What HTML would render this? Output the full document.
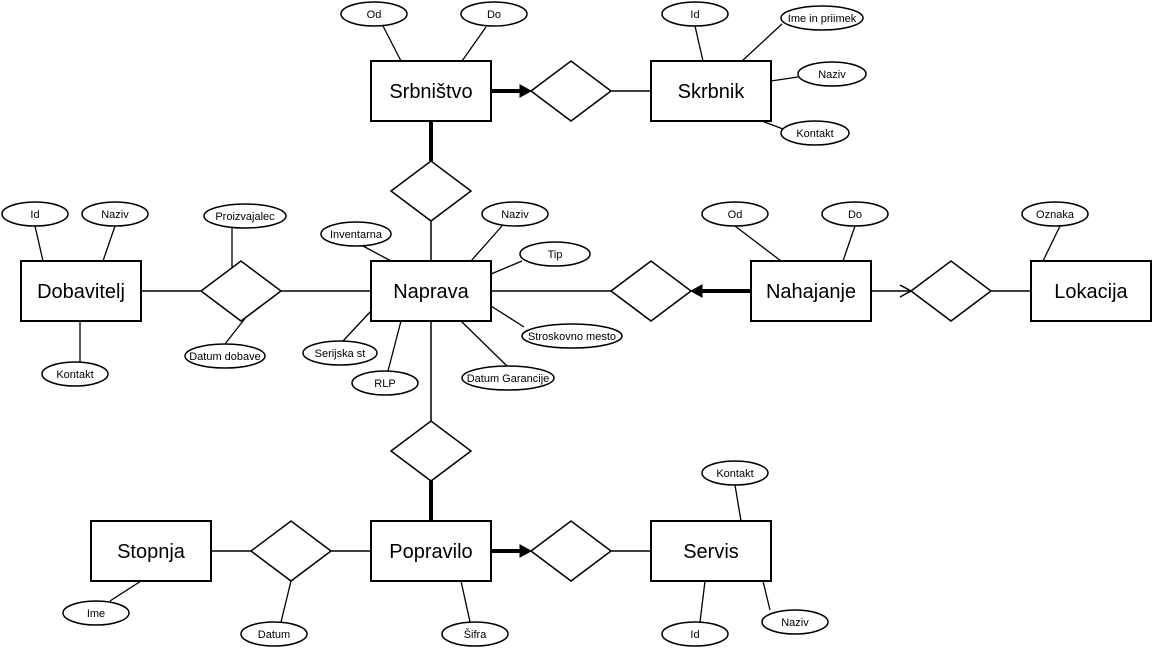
<!DOCTYPE html>
<html><head><meta charset="utf-8"><style>
html,body{margin:0;padding:0;background:#fff;}
svg{display:block;}
text{font-family:"Liberation Sans",sans-serif;fill:#000;}
.ent{font-size:20px;}
.att{font-size:11px;}
</style></head><body>
<svg width="1154" height="649" viewBox="0 0 1154 649">
<g stroke="#000" fill="none" stroke-width="1.3">
<line x1="383" y1="26" x2="401" y2="61"/><line x1="486" y1="27" x2="462" y2="61"/>
<line x1="695" y1="26" x2="703" y2="61"/><line x1="782" y1="24" x2="742" y2="61"/>
<line x1="798" y1="77" x2="771" y2="81"/><line x1="783" y1="129" x2="762" y2="121"/>
<line x1="35" y1="226" x2="43" y2="261"/><line x1="115" y1="226" x2="103" y2="261"/>
<line x1="80" y1="362" x2="80" y2="321"/>
<line x1="232" y1="228" x2="232" y2="270"/><line x1="225" y1="344" x2="250" y2="312"/>
<line x1="363" y1="246" x2="391" y2="261"/><line x1="502" y1="226" x2="471" y2="261"/>
<line x1="522" y1="261" x2="491" y2="274"/><line x1="524" y1="327" x2="491" y2="306"/>
<line x1="507" y1="366" x2="461" y2="321"/><line x1="388" y1="371" x2="401" y2="321"/>
<line x1="343" y1="341" x2="371" y2="311"/>
<line x1="735" y1="226" x2="781" y2="261"/><line x1="855" y1="226" x2="843" y2="261"/>
<line x1="1060" y1="226" x2="1043" y2="261"/>
<line x1="110" y1="601" x2="141" y2="581"/><line x1="281" y1="622" x2="291" y2="581"/>
<line x1="470" y1="622" x2="461" y2="581"/>
<line x1="735" y1="485" x2="741" y2="521"/><line x1="700" y1="622" x2="705" y2="581"/>
<line x1="770" y1="610" x2="763" y2="581"/>
</g>
<g stroke="#000" fill="none" stroke-width="1.5">
<line x1="611" y1="91" x2="651" y2="91"/>
<line x1="431" y1="221" x2="431" y2="261"/>
<line x1="141" y1="291" x2="201" y2="291"/><line x1="281" y1="291" x2="371" y2="291"/>
<line x1="491" y1="291" x2="611" y2="291"/>
<line x1="871" y1="291" x2="911" y2="291"/><polyline points="900,285 911,291 900,297"/>
<line x1="991" y1="291" x2="1031" y2="291"/>
<line x1="431" y1="321" x2="431" y2="421"/>
<line x1="211" y1="551" x2="251" y2="551"/><line x1="331" y1="551" x2="371" y2="551"/>
<line x1="611" y1="551" x2="651" y2="551"/>
</g>
<g stroke="#000" stroke-width="4" fill="#000">
<line x1="491" y1="91" x2="522" y2="91"/><polygon points="520,85 531,91 520,97" stroke-width="1"/>
<line x1="431" y1="121" x2="431" y2="161"/>
<line x1="751" y1="291" x2="700" y2="291"/><polygon points="702,285 691,291 702,297" stroke-width="1"/>
<line x1="431" y1="481" x2="431" y2="521"/>
<line x1="491" y1="551" x2="522" y2="551"/><polygon points="520,545 531,551 520,557" stroke-width="1"/>
</g>
<g stroke="#000" fill="#fff" stroke-width="1.5">
<polygon points="531,91 571,61 611,91 571,121"/>
<polygon points="391,191 431,161 471,191 431,221"/>
<polygon points="201,291 241,261 281,291 241,321"/>
<polygon points="611,291 651,261 691,291 651,321"/>
<polygon points="911,291 951,261 991,291 951,321"/>
<polygon points="391,451 431,421 471,451 431,481"/>
<polygon points="251,551 291,521 331,551 291,581"/>
<polygon points="531,551 571,521 611,551 571,581"/>
</g>
<g stroke="#000" fill="#fff" stroke-width="2">
<rect x="371" y="61" width="120" height="60"/><rect x="651" y="61" width="120" height="60"/>
<rect x="21" y="261" width="120" height="60"/><rect x="371" y="261" width="120" height="60"/>
<rect x="751" y="261" width="120" height="60"/><rect x="1031" y="261" width="120" height="60"/>
<rect x="91" y="521" width="120" height="60"/><rect x="371" y="521" width="120" height="60"/>
<rect x="651" y="521" width="120" height="60"/>
</g>
<g class="ent" text-anchor="middle">
<text x="431" y="98">Srbništvo</text><text x="711" y="98">Skrbnik</text>
<text x="81" y="298">Dobavitelj</text><text x="431" y="298">Naprava</text>
<text x="811" y="298">Nahajanje</text><text x="1091" y="298">Lokacija</text>
<text x="151" y="558">Stopnja</text><text x="431" y="558">Popravilo</text>
<text x="711" y="558">Servis</text>
</g>
<g stroke="#000" fill="#fff" stroke-width="1.5">
<ellipse cx="374" cy="14" rx="33" ry="12"/><ellipse cx="494" cy="14" rx="33" ry="12"/>
<ellipse cx="695" cy="14" rx="33" ry="12"/><ellipse cx="822" cy="18" rx="41" ry="12"/>
<ellipse cx="832" cy="74" rx="34" ry="12"/><ellipse cx="815" cy="133" rx="34" ry="12"/>
<ellipse cx="35" cy="214" rx="33" ry="12"/><ellipse cx="115" cy="214" rx="33" ry="12"/>
<ellipse cx="75" cy="374" rx="33" ry="12"/>
<ellipse cx="245" cy="216" rx="41" ry="12"/><ellipse cx="225" cy="356" rx="40" ry="12"/>
<ellipse cx="356" cy="234" rx="35" ry="12"/><ellipse cx="515" cy="214" rx="33" ry="12"/>
<ellipse cx="555" cy="254" rx="35" ry="12"/><ellipse cx="572" cy="336" rx="50" ry="12"/>
<ellipse cx="508" cy="378" rx="46" ry="12"/><ellipse cx="385" cy="383" rx="33" ry="12"/>
<ellipse cx="340" cy="353" rx="37" ry="12"/>
<ellipse cx="735" cy="214" rx="33" ry="12"/><ellipse cx="855" cy="214" rx="33" ry="12"/>
<ellipse cx="1055" cy="214" rx="33" ry="12"/>
<ellipse cx="96" cy="613" rx="33" ry="12"/><ellipse cx="274" cy="634" rx="33" ry="12"/>
<ellipse cx="475" cy="634" rx="33" ry="12"/>
<ellipse cx="735" cy="473" rx="33" ry="12"/><ellipse cx="695" cy="634" rx="33" ry="12"/>
<ellipse cx="795" cy="622" rx="33" ry="12"/>
</g>
<g class="att" text-anchor="middle">
<text x="374" y="18">Od</text><text x="494" y="18">Do</text>
<text x="695" y="18">Id</text><text x="822" y="22">Ime in priimek</text>
<text x="832" y="78">Naziv</text><text x="815" y="137">Kontakt</text>
<text x="35" y="218">Id</text><text x="115" y="218">Naziv</text>
<text x="75" y="378">Kontakt</text>
<text x="245" y="220">Proizvajalec</text><text x="225" y="360">Datum dobave</text>
<text x="356" y="238">Inventarna</text><text x="515" y="218">Naziv</text>
<text x="555" y="258">Tip</text><text x="572" y="340">Stroskovno mesto</text>
<text x="508" y="382">Datum Garancije</text><text x="385" y="387">RLP</text>
<text x="340" y="357">Serijska st</text>
<text x="735" y="218">Od</text><text x="855" y="218">Do</text>
<text x="1055" y="218">Oznaka</text>
<text x="96" y="617">Ime</text><text x="274" y="638">Datum</text>
<text x="475" y="638">Šifra</text>
<text x="735" y="477">Kontakt</text><text x="695" y="638">Id</text>
<text x="795" y="626">Naziv</text>
</g>
</svg>
</body></html>
